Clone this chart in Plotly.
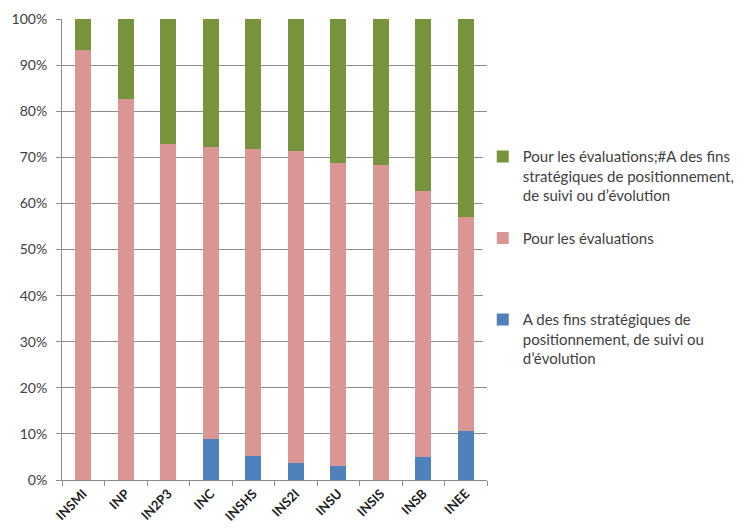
import plotly.graph_objects as go

categories = ["INSMI", "INP", "IN2P3", "INC", "INSHS", "INS2I", "INSU", "INSIS", "INSB", "INEE"]
strategique = [0.0, 0.0, 0.0, 9.0, 5.2, 3.6, 3.1, 0.0, 5.0, 10.6]
evaluations = [93.3, 82.6, 72.8, 63.2, 66.7, 67.8, 65.6, 68.3, 57.7, 46.5]
les_deux = [6.7, 17.4, 27.2, 27.8, 28.1, 28.6, 31.3, 31.7, 37.3, 42.9]

name_blue = "A des fins stratégiques de<br>positionnement, de suivi ou<br>d’évolution"
name_pink = "Pour les évaluations<br> <br> "
name_green = "Pour les évaluations;#A des fins<br>stratégiques de positionnement,<br>de suivi ou d’évolution"

def frac(v):
    return [x / 100.0 for x in v]

fig = go.Figure()
fig.add_trace(go.Bar(x=categories, y=frac(strategique), name=name_blue, legendrank=3,
                     marker=dict(color="#4F81BD", line=dict(width=0)), legendgroup="b"))
fig.add_trace(go.Bar(x=categories, y=frac(evaluations), name=name_pink, legendrank=2,
                     marker=dict(color="#D99694", line=dict(width=0)), legendgroup="p"))
fig.add_trace(go.Bar(x=categories, y=frac(les_deux), name=name_green, legendrank=1,
                     marker=dict(color="#77933C", line=dict(width=0)), legendgroup="g"))

fig.update_layout(
    width=742, height=522,
    barmode="stack", bargap=0.62,
    margin=dict(l=54, r=263, t=11, b=50, autoexpand=False),
    plot_bgcolor="white", paper_bgcolor="white",
    font=dict(family="Lato, Open Sans, sans-serif", color="#404040", size=12),
    legend=dict(x=0.99, xanchor="left", y=0.737, yanchor="top",
                traceorder="grouped", tracegroupgap=20, valign="top",
                font=dict(size=15, color="#404040"), itemwidth=30),
    showlegend=True,
)
fig.update_yaxes(range=[0, 1], dtick=0.1, tickformat=".0%", automargin=False,
                 showgrid=True, gridcolor="#8C8C8C", gridwidth=1,
                 showline=True, linecolor="#8C8C8C", linewidth=1,
                 ticks="outside", ticklen=5, tickcolor="#8C8C8C",
                 ticklabelstandoff=6,
                 tickfont=dict(size=14, color="#404040"), zeroline=False)
fig.update_xaxes(showline=True, linecolor="#8C8C8C", linewidth=1, automargin=False,
                 ticks="outside", ticklen=5, tickcolor="#8C8C8C",
                 tickson="boundaries", tickangle=-45,
                 tickfont=dict(size=13, color="#202020", weight="bold"))

fig.write_html("out.html")
